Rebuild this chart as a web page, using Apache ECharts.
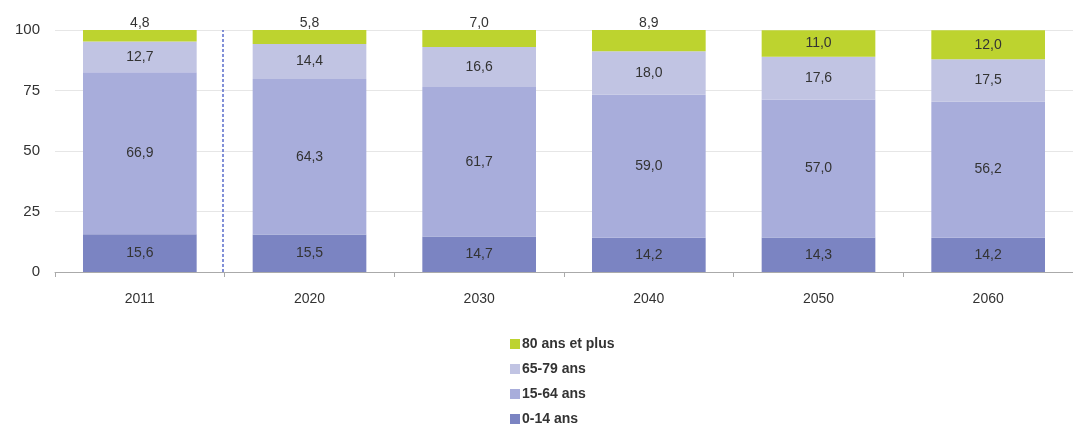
<!DOCTYPE html>
<html>
<head>
<meta charset="utf-8">
<script src="https://cdn.jsdelivr.net/npm/echarts@6/dist/echarts.min.js"></script>
<style>
  html, body { margin: 0; padding: 0; background: #fff; }
  #chart { width: 1073px; height: 428px; }
</style>
</head>
<body>
<div id="chart"></div>
<script>
var years = ['2011', '2020', '2030', '2040', '2050', '2060']
var age0to14 = [15.6, 15.5, 14.7, 14.2, 14.3, 14.2]
var age15to64 = [66.9, 64.3, 61.7, 59.0, 57.0, 56.2]
var age65to79 = [12.7, 14.4, 16.6, 18.0, 17.6, 17.5]
var age80plus = [4.8, 5.8, 7.0, 8.9, 11.0, 12.0]
var yTicks = [0, 25, 50, 75, 100]

var fmt = function (p) {
  return p.value.toFixed(1).replace('.', ',')
}

function seg(name, data, color) {
  return {
    name: name,
    type: 'bar',
    stack: 'total',
    barCategoryGap: '33%',
    itemStyle: { color: color },
    label: {
      show: true,
      position: 'inside',
      formatter: fmt,
      color: '#333',
      fontSize: 14,
      fontFamily: 'Liberation Sans, Arial, sans-serif'
    },
    data: data
  }
}

// small top segments: label sits above the bar
var topData = age80plus.map(function (v) {
  if (v < 10) {
    return { value: v, label: { position: 'top', distance: 0 } }
  }
  return v
})

var chart = echarts.init(document.getElementById('chart'))
chart.setOption({
  animation: false,
  legend: {
    orient: 'vertical',
    left: 505,
    top: 332,
    height: 100,
    itemWidth: 10,
    itemHeight: 10,
    itemGap: 11,
    icon: 'rect',
    textStyle: {
      fontSize: 14,
      fontWeight: 'bold',
      color: '#333',
      fontFamily: 'Liberation Sans, Arial, sans-serif',
      padding: [0, 0, 0, -3]
    },
    data: ['80 ans et plus', '65-79 ans', '15-64 ans', '0-14 ans']
  },
  grid: {
    left: 55,
    right: -10,
    top: 30,
    height: 242,
    containLabel: false
  },
  xAxis: [{
    type: 'category',
    data: years,
    axisLine: { lineStyle: { color: '#aaa' } },
    axisTick: { show: true, length: 5, lineStyle: { color: '#aaa' } },
    axisLabel: {
      color: '#333',
      fontSize: 14,
      margin: 20,
      fontFamily: 'Liberation Sans, Arial, sans-serif'
    }
  }, {
    type: 'value',
    min: 0,
    max: 6,
    show: false
  }],
  yAxis: {
    type: 'value',
    min: yTicks[0],
    max: yTicks[yTicks.length - 1],
    interval: 25,
    axisLine: { show: false },
    axisTick: { show: false },
    splitLine: { lineStyle: { color: '#e6e6e6' } },
    axisLabel: {
      color: '#333',
      fontSize: 15,
      margin: 15,
      fontFamily: 'Liberation Sans, Arial, sans-serif'
    }
  },
  series: [
    seg('0-14 ans', age0to14, '#7b84c2'),
    seg('15-64 ans', age15to64, '#a8addb'),
    seg('65-79 ans', age65to79, '#c1c4e3'),
    seg('80 ans et plus', topData, '#bdd32f'),
    {
      type: 'line',
      xAxisIndex: 1,
      data: [],
      markLine: {
        silent: true,
        symbol: 'none',
        label: { show: false },
        lineStyle: { color: '#5a6ccc', type: [3, 2], width: 1.5 },
        data: [{ xAxis: 0.99 }]
      }
    }
  ]
})
</script>
</body>
</html>
